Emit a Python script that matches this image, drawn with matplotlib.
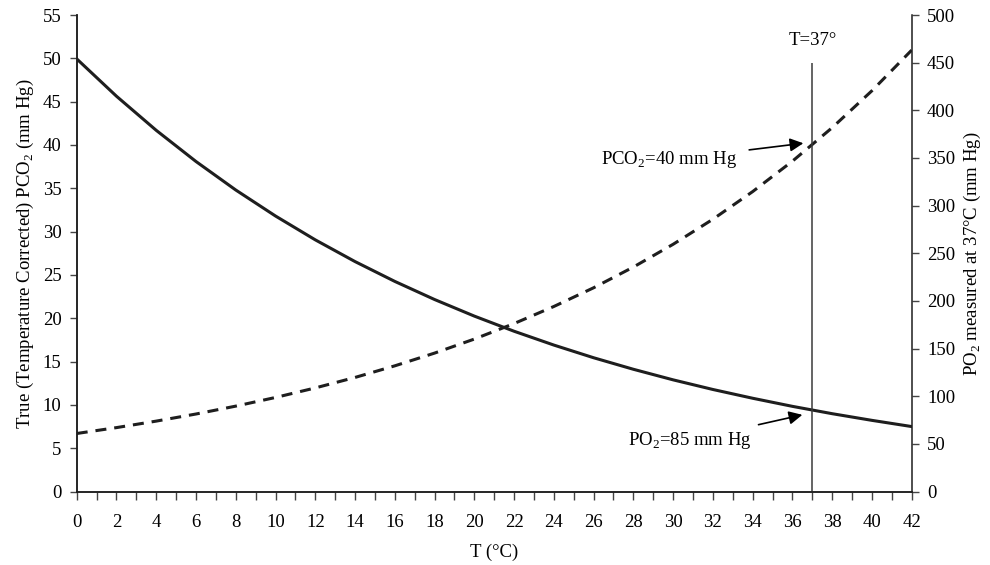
import numpy as np
import matplotlib
matplotlib.use("Agg")
import matplotlib.pyplot as plt

# ── Data: temperature (°C) and the two blood-gas curves ──────────
temp_c = [0, 2, 4, 6, 8, 10, 12, 14, 16, 18, 20,
          22, 24, 26, 28, 30, 32, 34, 36, 38, 40, 42]

# true (temperature corrected) PCO2, left axis, mm Hg
pco2_true = [6.70, 7.38, 8.13, 8.95, 9.86, 10.86, 11.96, 13.17, 14.51,
             15.98, 17.60, 19.39, 21.36, 23.52, 25.91, 28.54, 31.43,
             34.62, 38.13, 42.00, 46.26, 50.95]

# PO2 measured at 37 °C, right axis, mm Hg
po2_37 = [454.0, 414.8, 379.0, 346.3, 316.4, 289.1, 264.1, 241.3, 220.5,
          201.5, 184.1, 168.2, 153.7, 140.4, 128.3, 117.2, 107.1, 97.9,
          89.4, 81.7, 74.7, 68.2]

body_temp = 37
body_line_top = 450          # right-axis units
pco2_at_37 = 40
po2_at_37 = 85

left_ticks = list(range(0, 56, 5))
right_ticks = list(range(0, 501, 50))
x_major = list(range(0, 43, 2))
x_minor = list(range(0, 43, 1))

INK = "#1e1e1e"
FONT = "Liberation Serif"
FS = 13.5

plt.rcParams["font.family"] = FONT
plt.rcParams["mathtext.fontset"] = "custom"
plt.rcParams["mathtext.rm"] = FONT
plt.rcParams["font.size"] = FS

fig = plt.figure(figsize=(9.9, 5.65), dpi=100)
ax = fig.add_axes([0.0775, 0.130, 0.8434, 0.8434])
ax2 = ax.twinx()

# curves
ax.plot(temp_c, pco2_true, color=INK, lw=2.2, dashes=(3.6, 2.6),
        solid_capstyle="butt")
ax2.plot(temp_c, po2_37, color=INK, lw=2.2)

# body temperature marker
ax2.vlines(body_temp, 0, body_line_top, color="#3a3a3a", lw=1.1)
ax2.text(body_temp, 473, "T=37°", ha="center", va="center", fontsize=FS)

# annotations with arrows
ax.annotate("PCO$_\\mathregular{2}$=40 mm Hg",
            xy=(36.55, pco2_at_37 + 0.2), xytext=(33.2, 38.3),
            ha="right", va="center", fontsize=FS,
            arrowprops=dict(arrowstyle="-|>", color="black", lw=1.2,
                            mutation_scale=20, shrinkA=7, shrinkB=0))
ax2.annotate("PO$_\\mathregular{2}$=85 mm Hg",
             xy=(36.5, po2_at_37 - 4.5), xytext=(33.95, 54),
             ha="right", va="center", fontsize=FS,
             arrowprops=dict(arrowstyle="-|>", color="black", lw=1.2,
                             mutation_scale=20, shrinkA=7, shrinkB=0))

# axes ranges and ticks
ax.set_xlim(0, 42)
ax.set_ylim(0, 55)
ax2.set_ylim(0, 500)
ax.set_xticks(x_minor, minor=True)
ax.set_xticks(x_major)
ax.set_yticks(left_ticks)
ax2.set_yticks(right_ticks)

for a in (ax, ax2):
    a.spines["top"].set_visible(False)
    for s in a.spines.values():
        s.set_color(INK)
        s.set_linewidth(1.1)
    a.tick_params(which="both", direction="out", length=5, width=1.0,
                  color="#444444", labelsize=FS)
ax.tick_params(axis="x", which="both", length=6, pad=10)
ax.tick_params(axis="y", pad=6)
ax2.tick_params(axis="y", pad=6)
ax.spines["right"].set_visible(False)

ax.set_xlabel("T (°C)", fontsize=FS, labelpad=9)
ax.set_ylabel("True (Temperature Corrected) PCO$_\\mathregular{2}$ (mm Hg)",
              fontsize=FS, labelpad=5)
ax2.set_ylabel("PO$_\\mathregular{2}$ measured at 37°C (mm Hg)",
               fontsize=FS, labelpad=5)

fig.savefig("out.png", dpi=100, facecolor="white")
